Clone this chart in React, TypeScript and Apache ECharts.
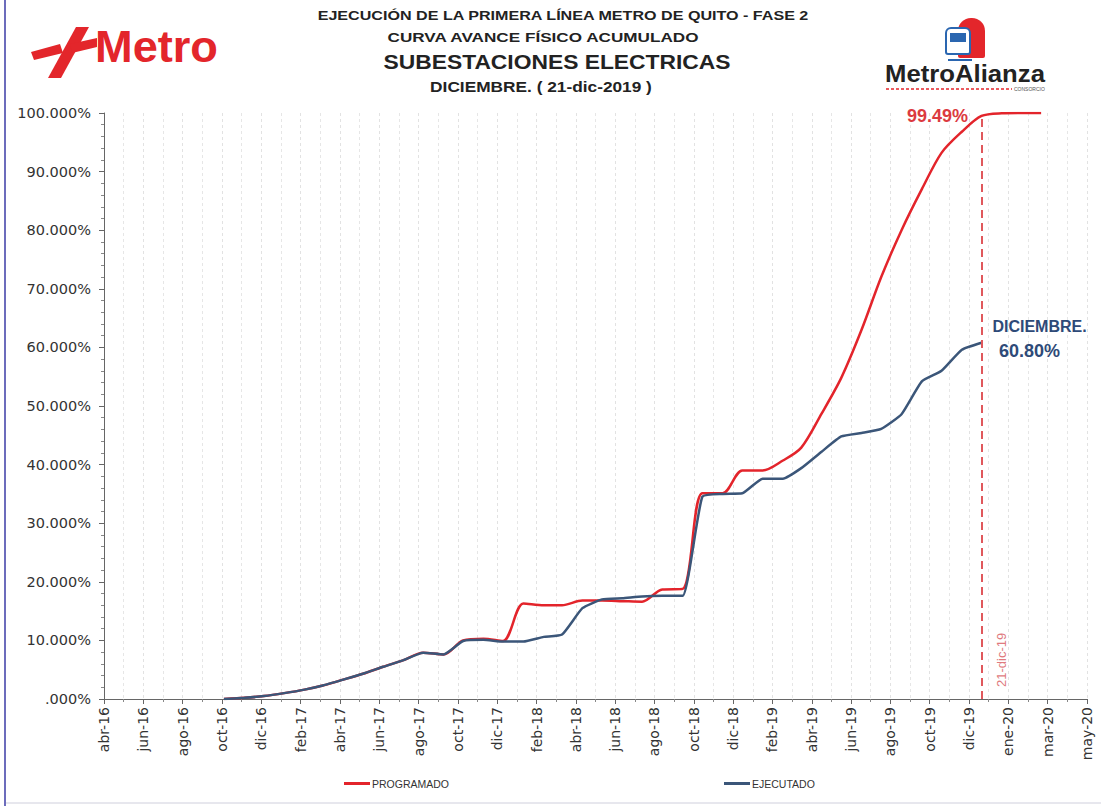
import { useEffect, useRef } from "react";
import * as echarts from "echarts";

// ---- data ----
const AXIS_START = "2016-04-21"; // first tick date (axis uses 60-day steps)
const xTickLabels = [
  "abr-16", "jun-16", "ago-16", "oct-16", "dic-16", "feb-17", "abr-17", "jun-17",
  "ago-17", "oct-17", "dic-17", "feb-18", "abr-18", "jun-18", "ago-18", "oct-18",
  "dic-18", "feb-19", "abr-19", "jun-19", "ago-19", "oct-19", "dic-19", "ene-20",
  "mar-20", "may-20",
];
const fechas = [
  "2016-10-21", "2016-11-21", "2016-12-21", "2017-01-21", "2017-02-21", "2017-03-21",
  "2017-04-21", "2017-05-21", "2017-06-21", "2017-07-21", "2017-08-21", "2017-09-21",
  "2017-10-21", "2017-11-21", "2017-12-21", "2018-01-21", "2018-02-21", "2018-03-21",
  "2018-04-21", "2018-05-21", "2018-06-21", "2018-07-21", "2018-08-21", "2018-09-21",
  "2018-10-21", "2018-11-21", "2018-12-21", "2019-01-21", "2019-02-21", "2019-03-21",
  "2019-04-21", "2019-05-21", "2019-06-21", "2019-07-21", "2019-08-21", "2019-09-21",
  "2019-10-21", "2019-11-21", "2019-12-21", "2020-01-21", "2020-02-21", "2020-03-21",
];
const programado = [
  0.0, 0.2, 0.5, 1.0, 1.6, 2.3, 3.3, 4.3, 5.5, 6.6, 7.9, 7.6,
  10.0, 10.3, 9.9, 16.3, 16.0, 16.0, 16.8, 16.8, 16.7, 16.6, 18.7, 18.8,
  35.1, 35.1, 39.0, 39.0, 40.7, 42.9, 48.7, 54.8, 63.0, 72.0, 80.0, 87.0,
  93.2, 96.8, 99.49, 99.95, 100.0, 100.0,
];
const ejecutado = [
  0.0, 0.2, 0.5, 1.0, 1.6, 2.3, 3.3, 4.3, 5.5, 6.6, 7.9, 7.6,
  9.9, 10.1, 9.8, 9.8, 10.6, 11.0, 15.5, 17.0, 17.2, 17.5, 17.6, 17.6,
  34.5, 35.0, 35.1, 37.6, 37.6, 39.4, 42.2, 44.8, 45.4, 46.1, 48.6, 54.2,
  56.0, 59.6, 60.8,
];
const fechaCorte = "2019-12-21";
const etiquetaCorte = "21-dic-19";
const programadoCorte = 99.49;
const ejecutadoCorte = 60.8;

const titulos = [
  "EJECUCIÓN DE LA PRIMERA LÍNEA METRO DE QUITO - FASE 2",
  "CURVA AVANCE FÍSICO ACUMULADO",
  "SUBESTACIONES ELECTRICAS",
  "DICIEMBRE. ( 21-dic-2019 )",
];

function dayOf(d: string): number {
  return Math.round(
    (Date.parse(d + "T00:00:00Z") - Date.parse(AXIS_START + "T00:00:00Z")) / 86400000
  );
}

const RED = "#e3242b";
const BLUE = "#3b5679";
const SANS = '"Liberation Sans", Arial, sans-serif';

let measureCtx: CanvasRenderingContext2D | null = null;
function fitScale(text: string, font: string, width: number): number {
  if (!measureCtx) measureCtx = document.createElement("canvas").getContext("2d");
  if (!measureCtx) return 1;
  measureCtx.font = font;
  const w = measureCtx.measureText(text).width;
  return w > 0 ? width / w : 1;
}

function fittedText(text: string, cx: number, cy: number, size: number, width: number, fill: string, align = "center") {
  const font = `bold ${size}px ${SANS}`;
  return {
    type: "text",
    silent: true,
    x: cx,
    y: cy,
    scaleX: fitScale(text, font, width),
    style: { text, fill, font, textAlign: align, textVerticalAlign: "middle" },
  };
}

export default function App() {
  const ref = useRef<HTMLDivElement>(null);
  useEffect(() => {
    if (!ref.current) return;
    const chart = echarts.init(ref.current, undefined, { renderer: "svg" });
    const dCorte = dayOf(fechaCorte);
    const option: any = {
      animation: false,
      backgroundColor: "#ffffff",
      grid: { left: 104, right: 14, top: 113, bottom: 107, containLabel: false },
      legend: [
        {
          data: ["PROGRAMADO"],
          left: 339,
          top: 773,
          icon: "rect",
          itemWidth: 26,
          itemHeight: 3,
          itemGap: 4,
          textStyle: { fontSize: 10.5, color: "#333", fontFamily: SANS, padding: [0, 0, 0, -3] },
        },
        {
          data: ["EJECUTADO"],
          left: 719,
          top: 773,
          icon: "rect",
          itemWidth: 26,
          itemHeight: 3,
          itemGap: 4,
          textStyle: { fontSize: 10.5, color: "#333", fontFamily: SANS, padding: [0, 0, 0, -3] },
        },
      ],
      xAxis: {
        type: "value",
        min: 0,
        max: (xTickLabels.length - 1) * 60,
        interval: 60,
        axisLine: { show: true, onZero: false, lineStyle: { color: "#666", width: 1 } },
        axisTick: { show: true, length: 5, lineStyle: { color: "#666" } },
        minorTick: { show: true, splitNumber: 2, length: 3, lineStyle: { color: "#888" } },
        splitLine: { show: true, lineStyle: { color: "#e2e2e2", type: [3, 3], width: 1 } },
        minorSplitLine: { show: true, lineStyle: { color: "#e6e6e6", type: [3, 3], width: 1 } },
        axisLabel: {
          rotate: 90,
          margin: 8,
          fontSize: 14,
          color: "#333",
          fontFamily: "DejaVu Sans, sans-serif",
          formatter: (v: number) => xTickLabels[Math.round(v / 60)] ?? "",
        },
      },
      yAxis: {
        type: "value",
        min: 0,
        max: 100,
        interval: 10,
        axisLine: { show: true, lineStyle: { color: "#666", width: 1 } },
        axisTick: { show: true, length: 5, lineStyle: { color: "#666" } },
        minorTick: { show: true, splitNumber: 5, length: 3, lineStyle: { color: "#888" } },
        splitLine: { show: false },
        axisLabel: {
          margin: 13,
          fontSize: 14.5,
          color: "#333",
          fontFamily: "DejaVu Sans, sans-serif",
          formatter: (v: number) => (v === 0 ? ".000%" : v.toFixed(3) + "%"),
        },
      },
      series: [
        {
          name: "PROGRAMADO",
          type: "line",
          data: fechas.map((f, i) => [dayOf(f), programado[i]]),
          smooth: 0.3,
          symbol: "none",
          z: 3,
          lineStyle: { color: RED, width: 2.5 },
          itemStyle: { color: RED },
          markLine: {
            silent: true,
            symbol: ["none", "none"],
            lineStyle: { color: "#e0585c", type: [8, 5], width: 2 },
            label: {
              show: true,
              formatter: etiquetaCorte,
              position: "insideStartBottom",
              distance: [12, 14],
              color: "#e07a7e",
              fontSize: 13,
              fontFamily: SANS,
            },
            data: [[{ coord: [dCorte, 0] }, { coord: [dCorte, programadoCorte] }]],
          },
          markPoint: {
            silent: true,
            symbol: "circle",
            symbolSize: 1,
            itemStyle: { color: "rgba(0,0,0,0)" },
            data: [
              {
                coord: [dCorte, programadoCorte],
                label: {
                  show: true,
                  position: "inside",
                  offset: [-44, 0],
                  formatter: programadoCorte.toFixed(2) + "%",
                  color: "#dc3a3f",
                  fontSize: 18,
                  fontWeight: "bold",
                  fontFamily: SANS,
                },
              },
            ],
          },
        },
        {
          name: "EJECUTADO",
          type: "line",
          data: ejecutado.map((v, i) => [dayOf(fechas[i]), v]),
          smooth: 0.15,
          symbol: "none",
          z: 4,
          lineStyle: { color: BLUE, width: 2.5 },
          itemStyle: { color: BLUE },
          markPoint: {
            silent: true,
            symbol: "circle",
            symbolSize: 1,
            itemStyle: { color: "rgba(0,0,0,0)" },
            data: [
              {
                coord: [dCorte, ejecutadoCorte],
                label: {
                  show: true,
                  position: "inside",
                  offset: [58, -16],
                  formatter: "DICIEMBRE.",
                  color: "#2e4a78",
                  fontSize: 16,
                  fontWeight: "bold",
                  fontFamily: SANS,
                },
              },
              {
                coord: [dCorte, ejecutadoCorte],
                label: {
                  show: true,
                  position: "inside",
                  offset: [48, 8],
                  formatter: ejecutadoCorte.toFixed(2) + "%",
                  color: "#2e4a78",
                  fontSize: 18,
                  fontWeight: "bold",
                  fontFamily: SANS,
                },
              },
            ],
          },
        },
      ],
      graphic: [
        // frame
        { type: "rect", silent: true, shape: { x: 5, y: -5, width: 1100, height: 808 }, style: { fill: "none", stroke: "#cfcfdc", lineWidth: 1 } },
        { type: "line", silent: true, shape: { x1: 5, y1: 0, x2: 5, y2: 806 }, style: { stroke: "#6c6cbc", lineWidth: 2 } },
        // titles
        fittedText(titulos[0], 563, 16, 13, 493, "#222"),
        fittedText(titulos[1], 543, 37, 13, 313, "#222"),
        fittedText(titulos[2], 557, 62, 21, 347, "#222"),
        fittedText(titulos[3], 541, 87, 14, 222, "#222"),
        // Metro logo
        { type: "polygon", silent: true, shape: { points: [[31, 52], [60, 44], [63, 53], [34, 60]] }, style: { fill: "#e3262b" } },
        { type: "polygon", silent: true, shape: { points: [[48, 78], [76, 27], [89, 27], [61, 78]] }, style: { fill: "#e3262b" } },
        { type: "polygon", silent: true, shape: { points: [[70, 44], [97, 38], [97, 47], [72, 53]] }, style: { fill: "#e3262b" } },
        fittedText("Metro", 95, 47, 44, 123, "#e3262b", "left"),
        // MetroAlianza logo
        { type: "rect", silent: true, shape: { x: 958, y: 18, width: 27, height: 40, r: [13, 13, 2, 2] }, style: { fill: "#e3262b" } },
        { type: "rect", silent: true, shape: { x: 946, y: 28, width: 24, height: 26, r: [5, 5, 2, 2] }, style: { fill: "#ffffff", stroke: "#2a66b0", lineWidth: 2 } },
        { type: "rect", silent: true, shape: { x: 950, y: 33, width: 16, height: 9 }, style: { fill: "#2a66b0" } },
        { type: "line", silent: true, shape: { x1: 948, y1: 60, x2: 972, y2: 60 }, style: { stroke: "#2a66b0", lineWidth: 2 } },
        fittedText("MetroAlianza", 965, 73, 24, 160, "#222"),
        { type: "line", silent: true, shape: { x1: 886, y1: 89, x2: 1012, y2: 89 }, style: { stroke: "#e3262b", lineWidth: 1.5, lineDash: [3, 2] } },
        { type: "text", silent: true, x: 1014, y: 89, style: { text: "CONSORCIO", fill: "#555", font: `5px ${SANS}`, textVerticalAlign: "middle" } },
      ],
    };
    chart.setOption(option);
    return () => chart.dispose();
  }, []);
  return (
    <div
      ref={ref}
      style={{ position: "fixed", left: 0, top: 0, width: 1101, height: 806, background: "#fff" }}
    />
  );
}
